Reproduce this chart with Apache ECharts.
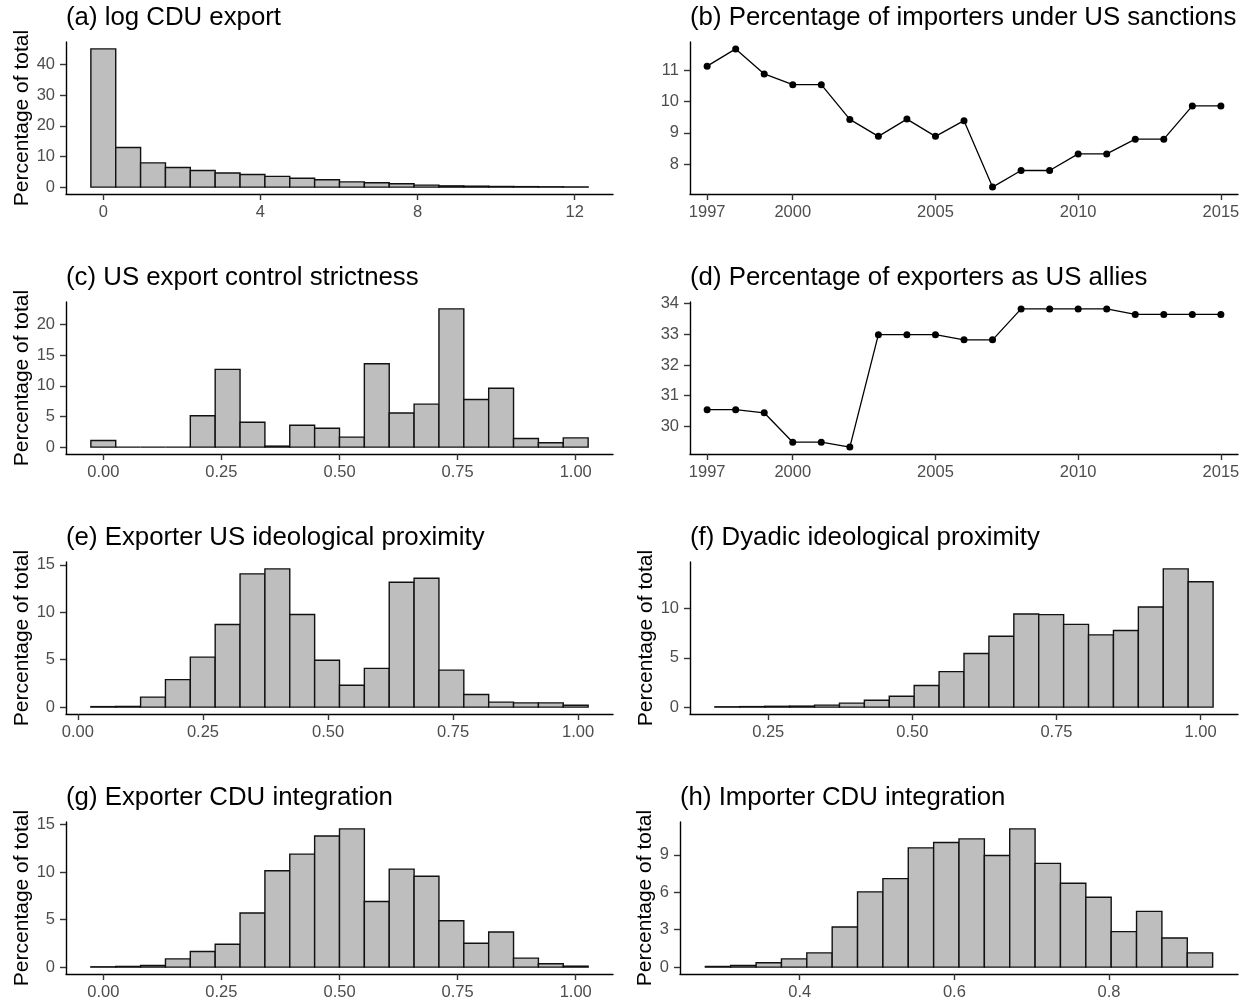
<!DOCTYPE html>
<html>
<head>
<meta charset="utf-8">
<script src="https://cdn.jsdelivr.net/npm/echarts@6/dist/echarts.min.js"></script>
<style>
html,body{margin:0;padding:0;background:#ffffff;}
#chart{width:1250px;height:1003px;}
</style>
</head>
<body>
<div id="chart"></div>
<script>
// ===================== DATA =====================
// Line panels (b) and (d)
const years = [1997,1998,1999,2000,2001,2002,2003,2004,2005,2006,2007,2008,2009,2010,2011,2012,2013,2014,2015];
const sanctionPct = [11.13,11.68,10.88,10.54,10.54,9.43,8.89,9.44,8.89,9.39,7.27,7.80,7.80,8.33,8.33,8.80,8.80,9.86,9.86];
const allyPct = [30.54,30.54,30.44,29.48,29.48,29.32,32.99,32.99,32.99,32.82,32.82,33.83,33.83,33.83,33.83,33.65,33.65,33.65,33.65];
const yearTicks = [1997,2000,2005,2010,2015];
const sanctionYTicks = [8,9,10,11];
const allyYTicks = [30,31,32,33,34];

// (a) log CDU export histogram
const cduExportCounts = [45.1,12.9,7.9,6.4,5.4,4.6,4.1,3.5,2.9,2.4,1.7,1.4,1.1,0.65,0.4,0.3,0.2,0.15,0.1,0.05];
const cduExportFirstCenter = 0;
const cduExportBinWidth = 0.633;
const cduExportXTicks = [0,4,8,12];
const cduExportYTicks = [0,10,20,30,40];

// (c) US export control strictness
const strictCounts = [1.08,0,0,0,5.12,12.67,4.04,0.16,3.56,3.07,1.62,13.58,5.55,7.0,22.53,7.76,9.6,1.4,0.7,1.5];
const strictFirstCenter = 0;
const strictBinWidth = 0.05263;
const strictXTicks = [0,0.25,0.5,0.75,1];
const strictYTicks = [0,5,10,15,20];

// (e) Exporter US ideological proximity
const expIdeoCounts = [0.05,0.07,1.05,2.9,5.27,8.72,14.06,14.58,9.77,4.95,2.3,4.08,13.18,13.6,3.9,1.33,0.52,0.45,0.45,0.2];
const expIdeoFirstCenter = 0.0508;
const expIdeoBinWidth = 0.0497;
const expIdeoXTicks = [0,0.25,0.5,0.75,1];
const expIdeoYTicks = [0,5,10,15];

// (f) Dyadic ideological proximity
const dyadIdeoCounts = [0.03,0.05,0.08,0.1,0.2,0.4,0.7,1.1,2.2,3.6,5.45,7.2,9.46,9.4,8.4,7.34,7.78,10.17,14.04,12.73];
const dyadIdeoFirstCenter = 0.1792;
const dyadIdeoBinWidth = 0.0432;
const dyadIdeoXTicks = [0.25,0.5,0.75,1];
const dyadIdeoYTicks = [0,5,10];

// (g) Exporter CDU integration
const expIntCounts = [0.03,0.07,0.17,0.87,1.64,2.41,5.69,10.15,11.89,13.81,14.55,6.91,10.32,9.56,4.88,2.51,3.7,0.94,0.35,0.1];
const expIntFirstCenter = 0;
const expIntBinWidth = 0.05263;
const expIntXTicks = [0,0.25,0.5,0.75,1];
const expIntYTicks = [0,5,10,15];

// (h) Importer CDU integration
const impIntCounts = [0.05,0.13,0.35,0.66,1.14,3.22,6.04,7.10,9.57,10.0,10.29,8.96,11.09,8.32,6.73,5.61,2.85,4.47,2.34,1.14];
const impIntFirstCenter = 0.2944;
const impIntBinWidth = 0.0328;
const impIntXTicks = [0.4,0.6,0.8];
const impIntYTicks = [0,3,6,9];

// ===================== LAYOUT / STYLE =====================
const FONT = "'Liberation Sans', Arial, Helvetica, sans-serif";
const TICK_COLOR = '#4d4d4d';
const AXIS_W = 1.4;
const rowsTop = [42, 302, 562, 822];
const PANEL_H = 152;

function histData(firstCenter, width, counts) {
  return counts.map((c, i) => {
    const mid = firstCenter + i * width;
    return [mid - width / 2, mid + width / 2, c];
  });
}
function expand(lo, hi, f) { const r = hi - lo; return [lo - r * f, hi + r * f]; }

const panels = [
  {key:'a', title:'(a) log CDU export', type:'hist', left:66, width:547, row:0,
   counts:cduExportCounts, c0:cduExportFirstCenter, w:cduExportBinWidth,
   xt:cduExportXTicks, yt:cduExportYTicks, xdec:0, ytitle:true, nameGap:33},
  {key:'b', title:'(b) Percentage of importers under US sanctions', type:'line', left:690, width:548, row:0,
   x:years, y:sanctionPct, xt:yearTicks, yt:sanctionYTicks, xdec:0, ytitle:false},
  {key:'c', title:'(c) US export control strictness', type:'hist', left:66, width:547, row:1,
   counts:strictCounts, c0:strictFirstCenter, w:strictBinWidth,
   xt:strictXTicks, yt:strictYTicks, xdec:2, ytitle:true, nameGap:33},
  {key:'d', title:'(d) Percentage of exporters as US allies', type:'line', left:690, width:548, row:1,
   x:years, y:allyPct, xt:yearTicks, yt:allyYTicks, xdec:0, ytitle:false},
  {key:'e', title:'(e) Exporter US ideological proximity', type:'hist', left:66, width:547, row:2,
   counts:expIdeoCounts, c0:expIdeoFirstCenter, w:expIdeoBinWidth,
   xt:expIdeoXTicks, yt:expIdeoYTicks, xdec:2, ytitle:true, nameGap:33},
  {key:'f', title:'(f) Dyadic ideological proximity', type:'hist', left:690, width:548, row:2,
   counts:dyadIdeoCounts, c0:dyadIdeoFirstCenter, w:dyadIdeoBinWidth,
   xt:dyadIdeoXTicks, yt:dyadIdeoYTicks, xdec:2, ytitle:true, nameGap:27},
  {key:'g', title:'(g) Exporter CDU integration', type:'hist', left:66, width:547, row:3,
   counts:expIntCounts, c0:expIntFirstCenter, w:expIntBinWidth,
   xt:expIntXTicks, yt:expIntYTicks, xdec:2, ytitle:true, nameGap:33},
  {key:'h', title:'(h) Importer CDU integration', type:'hist', left:680, width:558, row:3,
   counts:impIntCounts, c0:impIntFirstCenter, w:impIntBinWidth,
   xt:impIntXTicks, yt:impIntYTicks, xdec:1, ytitle:true, nameGap:17}
];

const option = {
  animation: false,
  backgroundColor: '#ffffff',
  title: [], grid: [], xAxis: [], yAxis: [], series: []
};

panels.forEach((p, i) => {
  const top = rowsTop[p.row];
  option.title.push({
    text: p.title, left: p.left, top: top - 39, padding: 0,
    textStyle: {fontFamily: FONT, fontSize: 25.8, fontWeight: 'normal', color: '#000', lineHeight: 30}
  });
  option.grid.push({left: p.left, top: top, width: p.width, height: PANEL_H, containLabel: false, outerBoundsMode: 'none'});

  let xr, yr, data;
  if (p.type === 'hist') {
    data = histData(p.c0, p.w, p.counts);
    xr = expand(data[0][0], data[data.length - 1][1], 0.05);
    yr = expand(0, Math.max(...p.counts), 0.05);
  } else {
    data = p.x.map((yv, k) => [yv, p.y[k]]);
    xr = [p.x[0] - 0.6, p.x[p.x.length - 1] + 0.6];
    yr = expand(Math.min(...p.y), Math.max(...p.y), 0.05);
  }
  const axisLine = {show: true, onZero: false, lineStyle: {color: '#000', width: AXIS_W}};
  option.xAxis.push({
    type: 'value', gridIndex: i, min: xr[0], max: xr[1],
    axisLine: axisLine,
    axisTick: {show: true, length: 6, customValues: p.xt, lineStyle: {color: '#333', width: AXIS_W}},
    axisLabel: {show: true, customValues: p.xt, margin: 10, color: TICK_COLOR, fontSize: 16.5, fontFamily: FONT,
      formatter: v => Number(v).toFixed(p.xdec)},
    splitLine: {show: false}
  });
  option.yAxis.push({
    type: 'value', gridIndex: i, min: yr[0], max: yr[1],
    name: p.ytitle ? 'Percentage of total' : '', nameLocation: 'middle', nameGap: p.nameGap || 30,
    nameTextStyle: {fontFamily: FONT, fontSize: 21, color: '#000'},
    axisLine: axisLine,
    axisTick: {show: true, length: 6, customValues: p.yt, lineStyle: {color: '#333', width: AXIS_W}},
    axisLabel: {show: true, customValues: p.yt, margin: 11, color: TICK_COLOR, fontSize: 16.5, fontFamily: FONT},
    splitLine: {show: false}
  });
  if (p.type === 'hist') {
    option.series.push({
      type: 'custom', xAxisIndex: i, yAxisIndex: i, data: data, clip: false,
      encode: {x: [0, 1], y: 2},
      renderItem: function (params, api) {
        const pa = api.coord([api.value(0), api.value(2)]);
        const pb = api.coord([api.value(1), 0]);
        return {
          type: 'rect',
          shape: {x: pa[0], y: pa[1], width: pb[0] - pa[0], height: pb[1] - pa[1]},
          style: {fill: '#bebebe', stroke: '#111', lineWidth: 1.4}
        };
      }
    });
  } else {
    option.series.push({
      type: 'line', xAxisIndex: i, yAxisIndex: i, data: data,
      symbol: 'circle', symbolSize: 7, showSymbol: true,
      lineStyle: {color: '#000', width: 1.3},
      itemStyle: {color: '#000'}
    });
  }
});

const chart = echarts.init(document.getElementById('chart'), null, {renderer: 'canvas'});
chart.setOption(option);
</script>
</body>
</html>
